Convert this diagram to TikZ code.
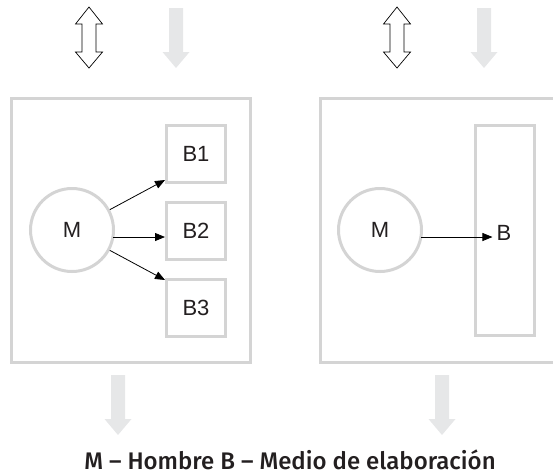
\documentclass[tikz,border=0pt]{standalone}
\usepackage{fontspec}
\setmainfont{Liberation Sans}
\newfontfamily\captionfont{Fira Sans}[UprightFont=* Medium]
\usetikzlibrary{arrows.meta,calc}
\definecolor{boxgray}{HTML}{D4D4D4}
\definecolor{arrowgray}{HTML}{E6E7E8}
\definecolor{txt}{HTML}{231F20}
\tikzset{
  outerbox/.style={draw=boxgray,line width=3pt},
  lbl/.style={font=\fontsize{22}{24}\selectfont,text=txt},
  bbox/.style={lbl,draw=boxgray,line width=3pt,inner sep=0pt,minimum width=59pt,minimum height=57pt},
  mcircle/.style={lbl,draw=boxgray,line width=3pt,circle,inner sep=0pt,minimum size=83pt},
  conn/.style={draw=black,line width=0.8pt,-{Triangle[length=10pt,width=8pt]}},
  dblarrow/.pic={\draw[black,line width=0.7pt,fill=white]
     (0,0) -- (13.5,17) -- (7,17) -- (7,45) -- (13.5,45) -- (0,61)
     -- (-13.5,45) -- (-7,45) -- (-7,17) -- (-13.5,17) -- cycle;},
  grayarrow/.pic={\fill[arrowgray]
     (-7,0) -- (7,0) -- (7,44) -- (13.5,44) -- (0,60) -- (-13.5,44) -- (-7,44) -- cycle;}
}
\begin{document}
\begin{tikzpicture}[x=1pt,y=-1pt]
\useasboundingbox (0,0) rectangle (553,475);
% top arrows
\pic at (89,7) {dblarrow};
\pic at (176,8) {grayarrow};
\pic at (397,7) {dblarrow};
\pic at (484,8) {grayarrow};
% bottom arrows
\pic at (118,375) {grayarrow};
\pic at (442,375) {grayarrow};
% left panel
\draw[outerbox] (11.5,98.5) rectangle (250.5,362.5);
\node[mcircle] (M1) at (72,230) {M};
\node[bbox] (B1) at (196,154) {B1};
\node[bbox] (B2) at (196,230.5) {B2};
\node[bbox] (B3) at (196,307.5) {B3};
\draw[conn] (M1) -- ($(B1.south west)+(0,-4)$);
\draw[conn] ($(M1.center)+(0,7)$) ++(41.4,0) -- ($(B2.west|-M1.center)+(0,7)$);
\draw[conn] (M1) -- ($(B3.north west)+(0,2.5)$);
% right panel
\draw[outerbox] (320.5,98.5) rectangle (556,362.5);
\node[mcircle] (M2) at (380,230) {M};
\node[draw=boxgray,line width=3pt,inner sep=0pt,minimum width=59pt,minimum height=210pt] (B) at (505,230.5) {};
\node[lbl,inner sep=0pt] (Bl) at (504,233) {B};
\draw[conn] ($(M2.center)+(0,7)$) ++(41.4,0) -- ($(Bl.west|-M2.center)+(-4,7)$);
% caption
\node[anchor=base,font=\captionfont\fontsize{24}{26}\selectfont,text=txt,inner sep=0pt] (cap) at (290,469) {M – Hombre B – Medio de elaboración};
\end{tikzpicture}
\end{document}
